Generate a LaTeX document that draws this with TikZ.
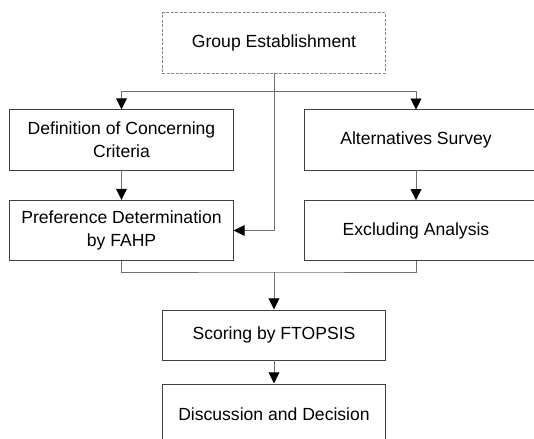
\documentclass[tikz,border=0pt]{standalone}
\usepackage{fontspec}
\setmainfont{Liberation Sans}
\usetikzlibrary{arrows.meta, positioning}
\definecolor{boxgray}{HTML}{404040}
\definecolor{linegray}{HTML}{707070}
\definecolor{dashgray}{HTML}{8A8A8A}

\begin{document}
\begin{tikzpicture}[x=0.025cm, y=-0.025cm,
  every node/.style={font=\fontsize{12.5}{16.3}\selectfont},
  stepbox/.style={rectangle, draw=boxgray, line width=0.7pt, minimum width=5.575cm, minimum height=1.5cm, align=center, inner sep=0pt},
  openbox/.style={rectangle, minimum width=5.575cm, minimum height=1.5cm, align=center, inner sep=0pt},
  link/.style={draw=linegray, line width=0.7pt},
  flow/.style={link, -{Triangle[length=0.28cm, width=0.27cm, color=black]}},
]
\useasboundingbox (0,0) rectangle (534,439);

\node[stepbox, draw=dashgray, dash pattern=on 2.1pt off 1.1pt] (group) at (274,43) {Group Establishment};
\node[stepbox] (criteria) at (121.5,140) {Definition of Concerning\\Criteria};
\node[openbox] (survey) at (416,140) {Alternatives Survey};
\node[stepbox] (fahp) at (121.5,230.5) {Preference Determination\\by FAHP};
\node[openbox] (exclude) at (416,230.5) {Excluding Analysis};
\node[stepbox, minimum height=1.25cm] (score) at (274,335) {Scoring by FTOPSIS};
\node[stepbox] (decide) at (274,414) {Discussion and Decision};

% right column boxes run past the page edge
\foreach \b in {survey, exclude}
  \draw[boxgray, line width=0.7pt] ([xshift=1cm]\b.north east) -- (\b.north west) -- (\b.south west) -- ([xshift=1cm]\b.south east);

\coordinate (split) at (274,91);
\coordinate (merge) at (274,272);

\draw[flow] (group.south) |- (fahp.east);
\draw[flow] (split) -| (criteria.north);
\draw[flow] (split) -| (survey.north);
\draw[flow] (criteria) -- (fahp);
\draw[flow] (survey) -- (exclude);
\draw[link] (fahp.south) |- (merge) -| (exclude.south);
\draw[flow] (merge) -- (score);
\draw[flow] (score) -- (decide);

\end{tikzpicture}
\end{document}
